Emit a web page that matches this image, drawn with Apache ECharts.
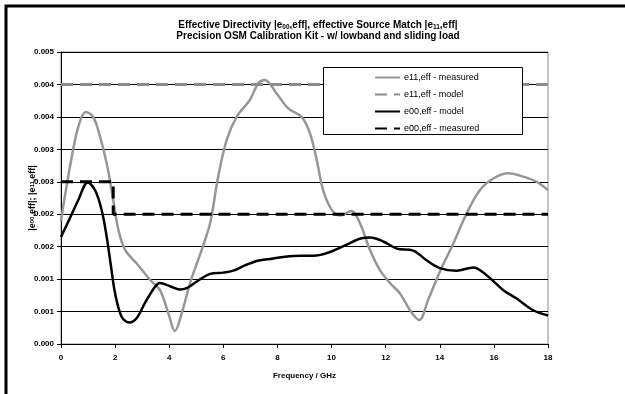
<!DOCTYPE html>
<html>
<head>
<meta charset="utf-8">
<script src="https://cdn.jsdelivr.net/npm/echarts@6/dist/echarts.min.js"></script>
<style>html,body{margin:0;padding:0;background:#fff}#c{width:625px;height:394px}</style>
</head>
<body>
<div id="c"></div>
<script>
// ---- data ----
var seriesNames = ['e11,eff - measured', 'e11,eff - model', 'e00,eff - model', 'e00,eff - measured'];
var xTickLabels = ['0','2','4','6','8','10','12','14','16','18'];
var yTickLabels = ['0.000','0.001','0.001','0.002','0.002','0.003','0.003','0.004','0.004','0.005'];

var e11MeasFreq = [0,0.33,0.64,0.92,1.19,1.44,1.69,1.93,2.12,2.37,2.80,3.29,3.66,3.97,4.21,4.46,4.77,5.20,5.51,5.81,6.12,6.49,6.98,7.29,7.54,7.97,8.40,8.89,9.20,9.45,9.69,10.0,10.31,10.74,11.05,11.42,11.79,12.16,12.53,12.90,13.24,13.57,14.0,14.50,14.99,15.48,15.98,16.53,17.08,17.58,18];
var e11MeasVal = [0.0019,0.00273,0.00335,0.003575,0.0035,0.0032,0.00278,0.00222,0.00176,0.00145,0.00124,0.00099,0.00083,0.00047,0.0002,0.00047,0.00094,0.00145,0.00186,0.00258,0.00314,0.0035,0.00376,0.00402,0.00407,0.00386,0.00363,0.0035,0.00325,0.00284,0.00237,0.00207,0.00198,0.00205,0.00186,0.00145,0.00114,0.00094,0.00078,0.00052,0.00037,0.00068,0.00111,0.00155,0.00201,0.00237,0.00255,0.00263,0.00258,0.0025,0.00237];

var e11ModelFreq = [0, 18];
var e11ModelVal = [0.004, 0.004];

var e00ModelFreq = [0,0.33,0.64,0.99,1.26,1.50,1.69,1.85,2.0,2.24,2.53,2.80,3.10,3.47,3.66,4.03,4.40,4.64,5.01,5.51,6.0,6.37,6.74,7.23,7.72,8.2,8.83,9.32,9.82,10.56,11.11,11.42,11.91,12.41,13.02,13.51,14.0,14.62,15.24,15.73,16.35,16.84,17.45,18];
var e00ModelVal = [0.00165,0.00194,0.00222,0.00249,0.00237,0.00207,0.00165,0.00119,0.00078,0.00042,0.00033,0.0004,0.00063,0.00088,0.00094,0.00089,0.00084,0.00086,0.00096,0.00108,0.0011,0.00113,0.0012,0.00128,0.00131,0.00134,0.00136,0.00136,0.0014,0.00153,0.00163,0.00164,0.00158,0.00147,0.00144,0.00129,0.00117,0.00113,0.00118,0.00106,0.00083,0.0007,0.00052,0.00044];

var e00MeasFreq = [0, 1.93, 1.93, 18];
var e00MeasVal = [0.0025, 0.0025, 0.002, 0.002];

function pairs(xs, ys){ return xs.map(function(x,i){ return [x, ys[i]]; }); }

var FONT = '"Liberation Sans", Arial, sans-serif';
var GREY = '#969696';

var chart = echarts.init(document.getElementById('c'), null, {renderer:'canvas'});
chart.setOption({
  animation: false,
  backgroundColor: '#fff',
  textStyle: {fontFamily: FONT},
  title: {
    left: 318, top: 20, textAlign: 'center', padding: 0,
    text: '{a|Effective Directivity |e}{s|00}{a|,eff|, effective Source Match |e}{s|11}{a|,eff|}\n{a|Precision OSM Calibration Kit - w/ lowband and sliding load}',
    textStyle: {
      fontFamily: FONT, fontWeight: 'bold', fontSize: 10, lineHeight: 11, color: '#000',
      rich: {
        a: {fontFamily: FONT, fontWeight: 'bold', fontSize: 10, lineHeight: 11, color: '#000'},
        s: {fontFamily: FONT, fontWeight: 'bold', fontSize: 6.5, lineHeight: 11, color: '#000', verticalAlign: 'bottom', padding: [3,0,0,0]}
      }
    }
  },
  graphic: [
    {type: 'rect', z: 100, shape: {x: 6, y: 6, width: 800, height: 600}, style: {fill: 'none', stroke: '#000', lineWidth: 3}},
    {type: 'rect', z: 3, shape: {x: 323.5, y: 67.5, width: 199, height: 67}, style: {fill: '#fff', stroke: '#000', lineWidth: 1}}
  ],
  legend: {
    left: 374, top: 72, orient: 'vertical', padding: 0,
    itemWidth: 25, itemHeight: 10, itemGap: 6, z: 5,
    itemStyle: {opacity: 0},
    data: seriesNames,
    textStyle: {fontFamily: FONT, fontSize: 9, color: '#000', lineHeight: 11, padding: [0,0,0,-1]}
  },
  grid: {left: 61, right: 77, top: 52, bottom: 50, show: true, borderColor: '#8c8c8c', borderWidth: 1, backgroundColor: '#fff'},
  xAxis: {
    type: 'value', min: 0, max: 18, interval: 2,
    name: 'Frequency / GHz', nameLocation: 'middle', nameGap: 28, nameMoveOverlap: false,
    nameTextStyle: {fontFamily: FONT, fontWeight: 'bold', fontSize: 8, color: '#000'},
    axisLine: {lineStyle: {color: '#000', width: 1}},
    axisTick: {inside: false, length: 4, lineStyle: {color: '#000'}},
    splitLine: {show: false},
    axisLabel: {fontFamily: FONT, fontWeight: 'bold', fontSize: 8, color: '#000', margin: 10,
      formatter: function(v){ return xTickLabels[Math.round(v/2)]; }}
  },
  yAxis: {
    type: 'value', min: 0, max: 0.0045, interval: 0.0005,
    name: '{a||e}{s|00}{a|,eff|; |e}{s|11}{a|,eff|}', nameLocation: 'middle', nameGap: 24, nameMoveOverlap: false,
    nameTextStyle: {fontFamily: FONT, fontWeight: 'bold', fontSize: 9, color: '#000',
      rich: {
        a: {fontFamily: FONT, fontWeight: 'bold', fontSize: 9, color: '#000'},
        s: {fontFamily: FONT, fontWeight: 'bold', fontSize: 6, color: '#000'}
      }},
    axisLine: {show: true, lineStyle: {color: '#000', width: 1}},
    axisTick: {show: true, inside: false, length: 4, lineStyle: {color: '#000'}},
    splitLine: {show: true, lineStyle: {color: '#000', width: 1}},
    axisLabel: {fontFamily: FONT, fontWeight: 'bold', fontSize: 8, color: '#000', margin: 7,
      formatter: function(v){ return yTickLabels[Math.round(v/0.0005)]; }}
  },
  series: [
    {name: seriesNames[0], type: 'line', data: pairs(e11MeasFreq, e11MeasVal), smooth: 0.35, showSymbol: false, symbol: 'none',
      lineStyle: {color: GREY, width: 2.5}, itemStyle: {color: GREY}, z: 2},
    {name: seriesNames[1], type: 'line', data: pairs(e11ModelFreq, e11ModelVal), showSymbol: false, symbol: 'none',
      lineStyle: {color: '#8c8c8c', width: 3, type: [12, 7]}, itemStyle: {color: '#8c8c8c'}, z: 2},
    {name: seriesNames[2], type: 'line', data: pairs(e00ModelFreq, e00ModelVal), smooth: 0.35, showSymbol: false, symbol: 'none',
      lineStyle: {color: '#000', width: 2.5}, itemStyle: {color: '#000'}, z: 2},
    {name: seriesNames[3], type: 'line', data: pairs(e00MeasFreq, e00MeasVal), showSymbol: false, symbol: 'none',
      lineStyle: {color: '#000', width: 3, type: [12, 7]}, itemStyle: {color: '#000'}, z: 2}
  ]
});
</script>
</body>
</html>
